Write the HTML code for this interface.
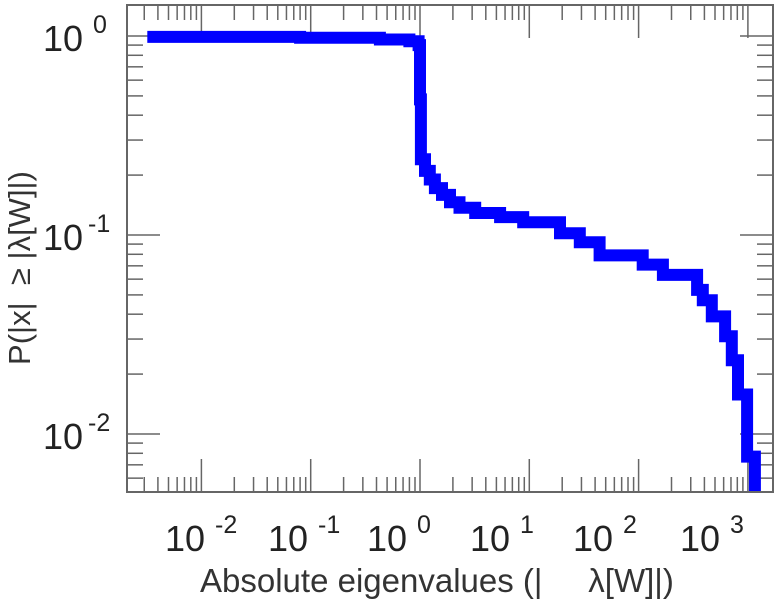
<!DOCTYPE html>
<html><head><meta charset="utf-8"><style>
body{margin:0;background:#fff;}
svg{display:block;font-family:"Liberation Sans","DejaVu Sans",sans-serif;}
</style></head><body>
<svg id="chart" width="777" height="600" viewBox="0 0 777 600">
<defs><clipPath id="plotclip"><rect x="127" y="5" width="646" height="487"/></clipPath></defs>
<g id="ticks"></g>
<path id="curve" fill="none" stroke="#0000ff" stroke-width="12" stroke-linejoin="miter" clip-path="url(#plotclip)"/>
<rect x="127" y="5" width="646" height="487" fill="none" stroke="#666" stroke-width="2"/>
<g id="xlabels" fill="#222"></g>
<g id="ylabels" fill="#222"></g>
<text x="200" y="592" font-size="33" fill="#333" xml:space="preserve">Absolute eigenvalues (|     λ[W]|)</text>
<text transform="translate(30,268) rotate(-90)" text-anchor="middle" font-size="31" fill="#333" xml:space="preserve">P(|x|  ≥ |λ[W]|)</text>
</svg>
<script>
const eigenvalues=[0.0032,0.08,0.43,0.8,0.97,1.0,1.02,1.11,1.23,1.37,1.59,1.88,2.3,3.2,5.4,8.8,19.1,29,44,109,167,343,387,467,619,712,812,984,1160];
const probabilities=[0.99,0.98,0.96,0.94,0.9,0.48,0.24,0.21,0.19,0.172,0.159,0.146,0.137,0.129,0.123,0.116,0.102,0.092,0.079,0.071,0.063,0.053,0.047,0.039,0.031,0.0235,0.0158,0.0077,0.0051];
const xDecades=[-2,-1,0,1,2,3];
const yDecades=[0,-1,-2];
const xLabelLeft=[165,268,367,470,573,680];
const NS="http://www.w3.org/2000/svg";
function xs(v){return 420+109.3*Math.log10(v);}
function ys(v){return 36-199*Math.log10(v);}
let d="M"+xs(eigenvalues[0]).toFixed(1)+","+ys(probabilities[0]).toFixed(1);
for(let i=1;i<eigenvalues.length;i++){d+=" H"+xs(eigenvalues[i]).toFixed(1)+" V"+ys(probabilities[i]).toFixed(1);}
d+=" V520";
document.getElementById('curve').setAttribute('d',d);
const tg=document.getElementById('ticks');
function line(x1,y1,x2,y2){const l=document.createElementNS(NS,'line');l.setAttribute('x1',x1);l.setAttribute('y1',y1);l.setAttribute('x2',x2);l.setAttribute('y2',y2);l.setAttribute('stroke','#666');l.setAttribute('stroke-width','1.5');


tg.appendChild(l);}
for(let e=-3;e<=3;e++){for(let m=1;m<10;m++){const x=xs(m*Math.pow(10,e));if(x<128||x>772)continue;const L=m===1?33:15;line(x,5,x,5+L);line(x,492,x,492-L);}}
for(let e=-3;e<=0;e++){for(let m=1;m<10;m++){const y=ys(m*Math.pow(10,e));if(y<6||y>491)continue;const L=m===1?33:16;line(127,y,127+L,y);line(773,y,773-L,y);}}
const xg=document.getElementById('xlabels');
xDecades.forEach((e,i)=>{const t=document.createElementNS(NS,'text');t.setAttribute('x',xLabelLeft[i]);t.setAttribute('y',551);t.setAttribute('font-size','36');


t.innerHTML='10<tspan dx="10" dy="-18" font-size="25">'+e+'</tspan>';xg.appendChild(t);});
const yg=document.getElementById('ylabels');
yDecades.forEach(e=>{const t=document.createElementNS(NS,'text');t.setAttribute('x',43);t.setAttribute('y',ys(Math.pow(10,e))+15);t.setAttribute('font-size','36');


t.innerHTML='10<tspan dx="'+(e===0?10:5)+'" dy="-18" font-size="25">'+e+'</tspan>';yg.appendChild(t);});
</script>
</body></html>
